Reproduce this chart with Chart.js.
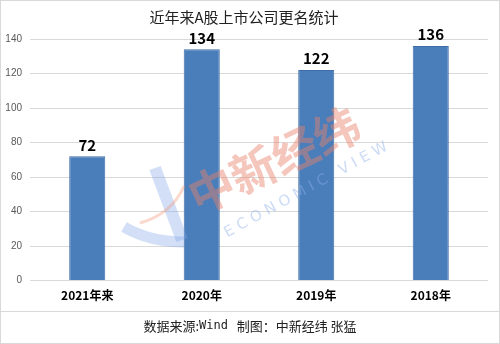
<!DOCTYPE html>
<html lang="zh">
<head>
    <meta charset="UTF-8">
    <title>近年来A股上市公司更名统计</title>
    <script src="https://cdn.jsdelivr.net/npm/chart.js"></script>
    <style>
        html, body { margin: 0; padding: 0; background: #fff; }
        .wrap { width: 500px; height: 344px; position: relative; }
    </style>
</head>
<body>
    <div class="wrap">
        <canvas id="renameChart" width="500" height="344"></canvas>
    </div>
    <script>
// 数据
const years = ['2021年来', '2020年', '2019年', '2018年'];
const counts = [72, 134, 122, 136];
const yTicks = [0, 20, 40, 60, 80, 100, 120, 140];

const cjk = '"Noto Sans CJK SC", "Microsoft YaHei", sans-serif';

// 柱顶数值 + 水印 + 底部来源
const extras = {
    id: 'extras',
    afterDatasetsDraw(chart) {
        const ctx = chart.ctx;
        const meta = chart.getDatasetMeta(0);
        ctx.save();
        ctx.fillStyle = '#000';
        ctx.font = 'bold 15px ' + cjk;
        ctx.textAlign = 'center';
        ctx.textBaseline = 'bottom';
        meta.data.forEach((bar, i) => {
            ctx.fillText(counts[i], bar.x, bar.y - 4);
        });
        ctx.restore();
    },
    afterDraw(chart) {
        const ctx = chart.ctx;
        const w = chart.width, h = chart.height;
        // watermark logo
        ctx.save();
        ctx.globalAlpha = 0.35;
        ctx.strokeStyle = '#7ea2e6';
        ctx.lineCap = 'butt';
        ctx.lineWidth = 12;
        ctx.beginPath();
        ctx.moveTo(155, 168);
        ctx.lineTo(182, 240);
        ctx.stroke();
        ctx.lineWidth = 11;
        ctx.beginPath();
        ctx.moveTo(124, 227);
        ctx.quadraticCurveTo(150, 242, 184, 242);
        ctx.stroke();
        ctx.strokeStyle = '#f0906e';
        ctx.lineWidth = 3;
        ctx.beginPath();
        ctx.moveTo(140, 223);
        ctx.quadraticCurveTo(172, 214, 184, 186);
        ctx.stroke();
        ctx.restore();

        ctx.save();
        ctx.globalAlpha = 0.45;
        ctx.textAlign = 'center';
        ctx.textBaseline = 'middle';
        ctx.translate(274, 160);
        ctx.rotate(-0.44);
        ctx.fillStyle = '#e8806a';
        ctx.font = 'bold 46px ' + cjk;
        ctx.fillText('中新经纬', 0, 0);
        ctx.restore();

        ctx.save();
        ctx.globalAlpha = 0.45;
        ctx.textAlign = 'center';
        ctx.textBaseline = 'middle';
        ctx.translate(306, 190);
        ctx.rotate(-0.5);
        ctx.fillStyle = '#8fb0e8';
        ctx.font = '15px "DejaVu Sans"';
        ctx.fillText('E C O N O M I C   V I E W', 0, 0);
        ctx.restore();

        ctx.save();
        ctx.strokeStyle = '#d9d9d9';
        ctx.lineWidth = 1;
        ctx.beginPath();
        ctx.moveTo(0, 311.5);
        ctx.lineTo(w, 311.5);
        ctx.stroke();
        ctx.strokeRect(0.5, 0.5, w - 1, h - 1);

        // source text
        ctx.fillStyle = '#222';
        ctx.textBaseline = 'middle';
        const parts = [
            ['数据来源:', '13px ' + cjk],
            ['Wind', '12px "DejaVu Sans Mono"'],
            ['   制图：中新经纬 张猛', '13px ' + cjk]
        ];
        let total = 0;
        parts.forEach(p => { ctx.font = p[1]; total += ctx.measureText(p[0]).width; });
        let x = w / 2 - total / 2;
        parts.forEach(p => {
            ctx.font = p[1];
            ctx.fillText(p[0], x, 326);
            x += ctx.measureText(p[0]).width;
        });
        ctx.restore();
    }
};

new Chart(document.getElementById('renameChart'), {
    type: 'bar',
    data: {
        labels: years,
        datasets: [{
            data: counts,
            backgroundColor: 'rgb(74, 126, 187)',
            borderColor: 'rgb(62, 108, 165)',
            borderWidth: 1,
            barPercentage: 0.315,
            categoryPercentage: 1
        }]
    },
    options: {
        responsive: false,
        animation: false,
        layout: { padding: { left: 0, right: 12, top: 0, bottom: 41 } },
        plugins: {
            legend: { display: false },
            tooltip: { enabled: false },
            title: {
                display: true,
                text: '近年来A股上市公司更名统计',
                color: '#222',
                font: { family: cjk, size: 15, weight: 'normal' },
                padding: { top: 8, bottom: 13 }
            }
        },
        scales: {
            x: {
                grid: { display: false },
                border: { display: false },
                ticks: {
                    color: '#000',
                    font: { family: cjk, size: 12, weight: 'bold' },
                    padding: 0
                }
            },
            y: {
                min: 0,
                max: 140,
                afterBuildTicks(axis) {
                    axis.ticks = yTicks.map(v => ({ value: v }));
                },
                afterFit(axis) {
                    axis.width = 30;
                },
                grid: { color: '#d9d9d9', drawTicks: false },
                border: { display: false },
                ticks: {
                    color: '#595959',
                    font: { family: '"Liberation Sans", sans-serif', size: 10 },
                    padding: 8
                }
            }
        }
    },
    plugins: [extras]
});
    </script>
</body>
</html>
